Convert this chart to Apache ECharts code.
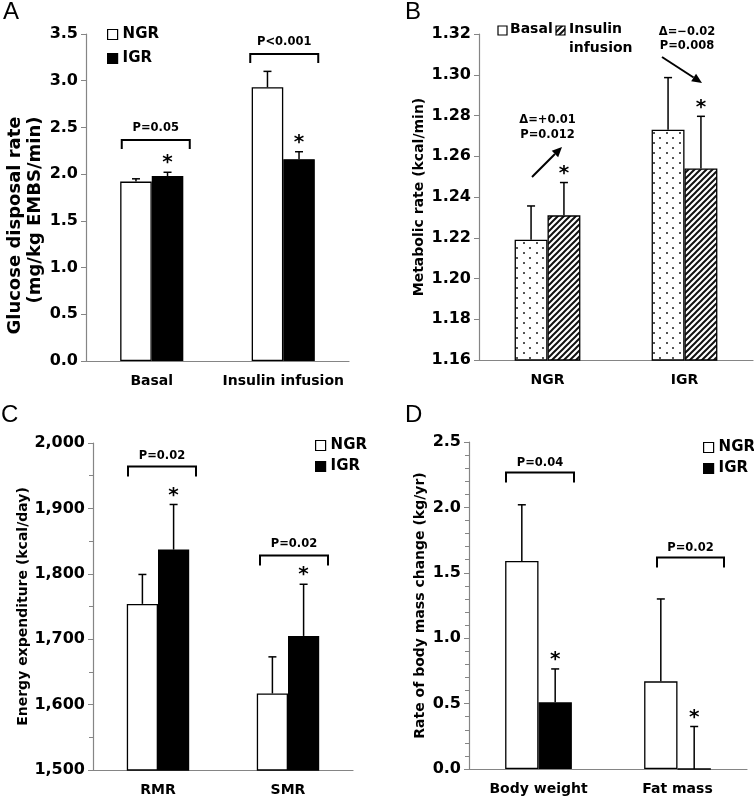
<!DOCTYPE html>
<html><head><meta charset="utf-8">
<script src="https://cdn.jsdelivr.net/npm/echarts@6/dist/echarts.min.js"></script>
<style>html,body{margin:0;padding:0;background:#fff}#c{width:754px;height:799px}</style>
</head><body><div id="c"></div>
<script>
// ---------- DATA ----------
// Panel A: glucose disposal rate
const catA = ['Basal', 'Insulin infusion'];
const ngrA = [1.92, 2.93];
const ngrA_se = [0.03, 0.17];
const igrA = [1.98, 2.16];
const igrA_se = [0.04, 0.08];
// Panel B: metabolic rate
const catB = ['NGR', 'IGR'];
const basalB = [1.219, 1.273];
const basalB_se = [0.0166, 0.0256];
const insB = [1.231, 1.254];
const insB_se = [0.0161, 0.0256];
// Panel C: energy expenditure
const catC = ['RMR', 'SMR'];
const ngrC = [1754, 1617];
const ngrC_se = [45, 56];
const igrC = [1837, 1705];
const igrC_se = [69, 79];
// Panel D: rate of body mass change
const catD = ['Body weight', 'Fat mass'];
const ngrD = [1.59, 0.67];
const ngrD_se = [0.43, 0.63];
const igrD = [0.51, 0.0];
const igrD_se = [0.255, 0.325];
// p-value labels
const pA = ['P=0.05', 'P<0.001'];
const pC = ['P=0.02', 'P=0.02'];
const pD = ['P=0.04', 'P=0.02'];
const deltaB = ['\u0394=+0.01', '\u0394=\u22120.02'];
const pB = ['P=0.012', 'P=0.008'];

// ---------- STYLE ----------
const FONT = '"DejaVu Sans", Verdana, sans-serif';
const AXIS_GRAY = '#858585';
const GAP = 0.52;

function dotPattern() {
  const c = document.createElement('canvas'); c.width = 13; c.height = 10;
  const g = c.getContext('2d'); g.fillStyle = '#fff'; g.fillRect(0, 0, 13, 10);
  g.fillStyle = '#555'; g.fillRect(3, 2, 2, 2); g.fillRect(9, 7, 2, 2);
  return c;
}
function hatchPattern() {
  const s = 6;
  const c = document.createElement('canvas'); c.width = s; c.height = s;
  const g = c.getContext('2d'); g.fillStyle = '#fff'; g.fillRect(0, 0, s, s);
  g.strokeStyle = '#111'; g.lineWidth = 2;
  g.beginPath();
  g.moveTo(0, s); g.lineTo(s, 0);
  g.moveTo(-2, 2); g.lineTo(2, -2);
  g.moveTo(s - 2, s + 2); g.lineTo(s + 2, s - 2);
  g.stroke();
  return c;
}
const DOTS = { image: dotPattern(), repeat: 'repeat' };
const HATCH = { image: hatchPattern(), repeat: 'repeat' };

function barSeries(name, idx, data, fill) {
  return {
    type: 'bar', name, xAxisIndex: idx, yAxisIndex: idx, data,
    barCategoryGap: (GAP * 100) + '%', barGap: '0%',
    itemStyle: { color: fill, borderColor: '#000', borderWidth: 1.3 },
    emphasis: { disabled: true }, animation: false, z: 2
  };
}
function errSeries(idx, vals, ses, side) {
  return {
    type: 'custom', xAxisIndex: idx, yAxisIndex: idx, silent: true, z: 3, animation: false,
    data: vals.map((v, i) => [i, v, ses[i]]),
    renderItem: (params, api) => {
      const cat = api.value(0), v = api.value(1), se = api.value(2);
      const band = api.size([1, 0])[0];
      const bw = band * (1 - GAP) / 2;
      const base = api.coord([cat, v]);
      const top = api.coord([cat, v + se]);
      const x = base[0] + side * bw / 2;
      return { type: 'group', children: [
        { type: 'line', shape: { x1: x, y1: base[1], x2: x, y2: top[1] }, style: { stroke: '#000', lineWidth: 1.5 } },
        { type: 'line', shape: { x1: x - 4, y1: top[1], x2: x + 4, y2: top[1] }, style: { stroke: '#000', lineWidth: 1.5 } }
      ] };
    }
  };
}
function txt(text, x, y, size) {
  return { type: 'text', style: { text, x, y, align: 'center', verticalAlign: 'middle',
    textAlign: 'center', textVerticalAlign: 'middle', font: `bold ${size}px ${FONT}`, fill: '#000' } };
}
function annoSeries(idx, y0, spec) {
  return {
    type: 'custom', xAxisIndex: idx, yAxisIndex: idx, silent: true, clip: false, z: 5, animation: false,
    data: [[0, y0]],
    renderItem: (params, api) => {
      const ch = [];
      const band = api.size([1, 0])[0];
      const bw = band * (1 - GAP) / 2;
      const cx = c => api.coord([c, y0])[0];
      const py = v => api.coord([0, v])[1];
      (spec.brackets || []).forEach(b => {
        const c = cx(b.cat), y = py(b.y);
        const x1 = c + b.dx1, x2 = c + b.dx2;
        ch.push({ type: 'polyline', shape: { points: [[x1, y + spec.leg], [x1, y], [x2, y], [x2, y + spec.leg]] },
          style: { stroke: '#000', lineWidth: 2, fill: null } });
        ch.push(txt(b.label, (x1 + x2) / 2, y - spec.tdy, 11.5));
      });
      (spec.stars || []).forEach(s => {
        const x = cx(s.cat) + s.side * bw / 2;
        ch.push(txt('*', x, py(s.top) - spec.starGap, 20));
      });
      (spec.texts || []).forEach(t => ch.push(txt(t.text, cx(t.cat) + t.dx, py(t.y), 11.5)));
      (spec.arrows || []).forEach(a => {
        const x1 = cx(a.cat) + a.dx1, y1 = py(a.y1), x2 = cx(a.cat) + a.dx2, y2 = py(a.y2);
        const ang = Math.atan2(y2 - y1, x2 - x1);
        const L = 10, W = 4.5;
        const bx = x2 - L * Math.cos(ang), by = y2 - L * Math.sin(ang);
        const nx = -Math.sin(ang) * W, ny = Math.cos(ang) * W;
        ch.push({ type: 'line', shape: { x1, y1, x2: bx, y2: by }, style: { stroke: '#000', lineWidth: 2 } });
        ch.push({ type: 'polygon', shape: { points: [[x2, y2], [bx + nx, by + ny], [bx - nx, by - ny]] }, style: { fill: '#000' } });
      });
      return { type: 'group', children: ch };
    }
  };
}

function xAxis(idx, data) {
  return {
    type: 'category', gridIndex: idx, data,
    axisLine: { show: true, lineStyle: { color: AXIS_GRAY, width: 1.2 } },
    axisTick: { show: false },
    axisLabel: { color: '#000', fontFamily: FONT, fontWeight: 'bold', fontSize: 14, margin: 13, interval: 0, hideOverlap: false }
  };
}
function yAxis(idx, min, max, interval, fmt, name, nameGap, nameStyle, minorSplit) {
  return {
    type: 'value', gridIndex: idx, min, max, interval,
    axisLine: { show: true, lineStyle: { color: AXIS_GRAY, width: 1.2 } },
    axisTick: { show: true, length: 5, lineStyle: { color: AXIS_GRAY } },
    minorTick: minorSplit ? { show: true, splitNumber: minorSplit, length: 4, lineStyle: { color: AXIS_GRAY } } : { show: false },
    splitLine: { show: false },
    axisLabel: { color: '#000', fontFamily: FONT, fontWeight: 'bold', fontSize: 16, margin: 8, formatter: fmt },
    name, nameLocation: 'middle', nameGap,
    nameTextStyle: Object.assign({ color: '#000', fontFamily: FONT, fontWeight: 'bold', fontSize: 14 }, nameStyle || {})
  };
}
const f1 = v => v.toFixed(1), f2 = v => v.toFixed(2), fc = v => v.toLocaleString('en-US');

const chart = echarts.init(document.getElementById('c'), null, { renderer: 'canvas' });
const legendText = { color: '#000', fontFamily: FONT, fontWeight: 'bold', fontSize: 15 };
const legendBase = { orient: 'vertical', itemWidth: 10, itemHeight: 10, icon: 'rect', selectedMode: false,
  itemStyle: { borderColor: '#000', borderWidth: 1.2 }, textStyle: legendText, padding: 0 };
const gridBase = { containLabel: false, outerBoundsMode: 'none' };
const titleA = { fontFamily: FONT, fontWeight: 'bold', fontSize: 18, lineHeight: 20, color: '#000' };

chart.setOption({
  animation: false,
  backgroundColor: '#fff',
  grid: [
    Object.assign({ left: 86, top: 34, width: 263, height: 327 }, gridBase),
    Object.assign({ left: 479, top: 34, width: 274, height: 326 }, gridBase),
    Object.assign({ left: 93, top: 443, width: 260, height: 327 }, gridBase),
    Object.assign({ left: 469, top: 442, width: 278, height: 327 }, gridBase)
  ],
  xAxis: [xAxis(0, catA), xAxis(1, catB), xAxis(2, catC), xAxis(3, catD)],
  yAxis: [
    yAxis(0, 0, 3.5, 0.5, f1, '{a|Glucose disposal rate}\n{b|(mg/kg EMBS/min)}', 41, {
      fontSize: 18, lineHeight: 20, padding: [0, 56, 0, 0],
      rich: { a: titleA, b: Object.assign({}, titleA, { padding: [0, 0, 0, 31] }) }
    }),
    yAxis(1, 1.16, 1.32, 0.02, f2, 'Metabolic rate (kcal/min)', 53),
    yAxis(2, 1500, 2000, 100, fc, 'Energy expenditure (kcal/day)', 62, null, 2),
    yAxis(3, 0, 2.5, 0.5, f1, 'Rate of body mass change (kg/yr)', 42, null, 5)
  ],
  legend: [
    Object.assign({}, legendBase, { data: ['NGR', 'IGR'], left: 107, top: 27, itemGap: 9 }),
    Object.assign({}, legendBase, { data: ['NGR', 'IGR'], left: 315, top: 438, itemGap: 6 }),
    Object.assign({}, legendBase, { data: ['NGR', 'IGR'], left: 703, top: 440, itemGap: 6 })
  ],
  graphic: [
    { type: 'text', left: 3, top: 0, style: { text: 'A', font: '24px "Liberation Sans", Arial', fill: '#000' } },
    { type: 'text', left: 405, top: 0, style: { text: 'B', font: '24px "Liberation Sans", Arial', fill: '#000' } },
    { type: 'text', left: 1, top: 403, style: { text: 'C', font: '24px "Liberation Sans", Arial', fill: '#000' } },
    { type: 'text', left: 405, top: 403, style: { text: 'D', font: '24px "Liberation Sans", Arial', fill: '#000' } },
    { type: 'rect', shape: { x: 498, y: 26, width: 9, height: 9 }, style: { fill: '#fff', stroke: '#000', lineWidth: 1.2 } },
    { type: 'text', left: 510, top: 22, style: { text: 'Basal', font: `bold 14px ${FONT}`, fill: '#000' } },
    { type: 'rect', shape: { x: 556, y: 26, width: 9, height: 9 }, style: { fill: HATCH, stroke: '#000', lineWidth: 1.2 } },
    { type: 'text', left: 569, top: 22, style: { text: 'Insulin', font: `bold 14px ${FONT}`, fill: '#000' } },
    { type: 'text', left: 569, top: 41, style: { text: 'infusion', font: `bold 14px ${FONT}`, fill: '#000' } }
  ],
  series: [
    barSeries('NGR', 0, ngrA, '#fff'), barSeries('IGR', 0, igrA, '#000'),
    errSeries(0, ngrA, ngrA_se, -1), errSeries(0, igrA, igrA_se, 1),
    annoSeries(0, 0, { leg: 9, tdy: 12, starGap: 9,
      brackets: [{ cat: 0, y: 2.365, dx1: -30, dx2: 38, label: pA[0] }, { cat: 1, y: 3.286, dx1: -33, dx2: 35, label: pA[1] }],
      stars: [{ cat: 0, side: 1, top: igrA[0] + igrA_se[0] }, { cat: 1, side: 1, top: igrA[1] + igrA_se[1] }] }),

    barSeries('Basal', 1, basalB, DOTS), barSeries('Insulin infusion', 1, insB, HATCH),
    errSeries(1, basalB, basalB_se, -1), errSeries(1, insB, insB_se, 1),
    annoSeries(1, 1.16, { leg: 0, tdy: 0, starGap: 9,
      stars: [{ cat: 0, side: 1, top: insB[0] + insB_se[0] }, { cat: 1, side: 1, top: insB[1] + insB_se[1] }],
      texts: [{ cat: 0, dx: 0, y: 1.2778, text: deltaB[0] }, { cat: 0, dx: 0, y: 1.2705, text: pB[0] },
              { cat: 1, dx: 2.5, y: 1.321, text: deltaB[1] }, { cat: 1, dx: 2.5, y: 1.3141, text: pB[1] }],
      arrows: [{ cat: 0, dx1: -15.5, y1: 1.2498, dx2: 14.5, y2: 1.2646 },
               { cat: 1, dx1: -22.5, y1: 1.3087, dx2: 17.5, y2: 1.296 }] }),

    barSeries('NGR', 2, ngrC, '#fff'), barSeries('IGR', 2, igrC, '#000'),
    errSeries(2, ngrC, ngrC_se, -1), errSeries(2, igrC, igrC_se, 1),
    annoSeries(2, 1500, { leg: 10, tdy: 11, starGap: 9,
      brackets: [{ cat: 0, y: 1964, dx1: -30, dx2: 38, label: pC[0] }, { cat: 1, y: 1828, dx1: -28, dx2: 40, label: pC[1] }],
      stars: [{ cat: 0, side: 1, top: igrC[0] + igrC_se[0] }, { cat: 1, side: 1, top: igrC[1] + igrC_se[1] }] }),

    barSeries('NGR', 3, ngrD, '#fff'), barSeries('IGR', 3, igrD, '#000'),
    errSeries(3, ngrD, ngrD_se, -1), errSeries(3, igrD, igrD_se, 1),
    annoSeries(3, 0, { leg: 10, tdy: 9, starGap: 9,
      brackets: [{ cat: 0, y: 2.267, dx1: -32.5, dx2: 35.5, label: pD[0] }, { cat: 1, y: 1.617, dx1: -20.5, dx2: 46.5, label: pD[1] }],
      stars: [{ cat: 0, side: 1, top: igrD[0] + igrD_se[0] }, { cat: 1, side: 1, top: igrD[1] + igrD_se[1] }] })
  ]
});
</script>
</body></html>
